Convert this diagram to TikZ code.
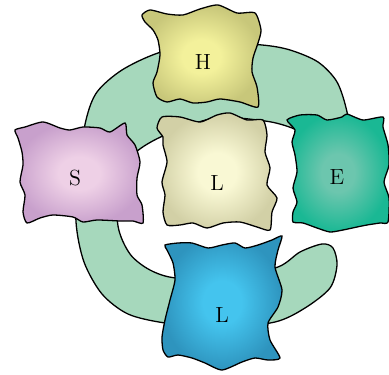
\documentclass[tikz,border=0pt]{standalone}
\usepackage{xcolor}
\usepackage{tikz}
\definecolor{bandgreen}{RGB}{166, 216, 188}
\definecolor{hyellow}{RGB}{243, 241, 155}
\definecolor{hyellowdark}{RGB}{200, 199, 122}
\definecolor{spink}{RGB}{238, 208, 230}
\definecolor{spinkdark}{RGB}{200, 160, 204}
\definecolor{lcream}{RGB}{249, 248, 212}
\definecolor{lcreamdark}{RGB}{210, 208, 166}
\definecolor{eteal}{RGB}{108, 198, 174}
\definecolor{etealdark}{RGB}{26, 184, 148}
\definecolor{lblue}{RGB}{68, 196, 238}
\definecolor{lbluedark}{RGB}{46, 148, 190}
\colorlet{blobin}{white}
\colorlet{blobout}{black}
\pgfdeclareradialshading[blobin,blobout]{blobshade}{\pgfpoint{0bp}{0bp}}{color(0bp)=(blobin); color(8bp)=(blobin); color(25bp)=(blobout); color(50bp)=(blobout)}
\usetikzlibrary{positioning}

\begin{document}
\begin{tikzpicture}[
    x=0.5bp, y=-0.5bp,
    blob/.style={draw=black, line width=0.65pt, /utils/exec={\colorlet{blobin}{#1}\colorlet{blobout}{#1dark}}, shading=blobshade},
    band/.style={draw=black, line width=0.65pt, fill=bandgreen},
    letter/.style={font=\fontsize{11}{13}\selectfont, inner sep=1pt}
]
    \useasboundingbox (0,0) rectangle (389,375);

    % ring behind the blocks
    \draw[band] plot[smooth cycle, tension=0.5] coordinates {
        (352,150) (347,112) (337,82) (318,62) (290,50) (262,45) (205,42)
        (158,53) (122,70) (97,92) (86,120) (78,170) (76,222) (84,262)
        (102,294) (128,314) (165,323) (220,328) (275,322) (305,308)
        (330,288) (337,265) (333,248) (322,244) (300,252) (278,267)
        (230,278) (176,278) (150,270) (130,254) (118,226) (118,180)
        (135,153) (165,135) (215,118) (265,121) (292,128) (315,140)};

    % H
    \shadedraw[blob=hyellow] plot[smooth cycle, tension=0.4] coordinates {
        (142,15) (150,10) (167,14) (183,15) (200,9) (218,5) (237,13) (255,13)
        (261,30) (258,43) (253,58) (252,72) (257,87) (258,107)
        (240,102) (220,99) (207,102) (193,103) (180,99) (167,102) (157,97)
        (153,83) (157,72) (160,55) (158,40) (153,30) (145,22)};
    % S
    \shadedraw[blob=spink] plot[smooth cycle, tension=0.4] coordinates {
        (15,130) (25,127) (43,122) (60,128) (70,130) (83,127) (100,128) (110,132) (125,123)
        (127,135) (135,145) (140,162) (137,178) (137,195) (142,205) (143,223)
        (133,221) (120,221) (97,220) (83,222) (73,217) (53,215) (40,218) (27,223)
        (23,212) (25,195) (20,182) (23,165) (22,152) (18,138)};
    % centre L
    \shadedraw[blob=lcream] plot[smooth cycle, tension=0.4] coordinates {
        (157,128) (162,117) (180,117) (200,122) (217,115) (230,113) (247,120) (263,120)
        (267,135) (265,152) (270,168) (267,185) (277,198) (272,212) (270,230)
        (257,227) (240,222) (223,223) (207,228) (193,223) (180,225) (167,225)
        (163,212) (165,195) (162,182) (167,162) (163,145) (163,137)};
    % E
    \shadedraw[blob=eteal] plot[smooth cycle, tension=0.4] coordinates {
        (287,120) (300,115) (317,115) (327,120) (342,117) (347,114) (363,120) (383,117)
        (383,127) (388,145) (389,165) (384,182) (389,198) (388,222)
        (380,223) (367,225) (357,227) (343,230) (330,232) (317,228) (303,223) (293,222)
        (293,212) (297,202) (293,188) (297,172) (295,155) (292,142) (295,130)};
    % bottom L
    \shadedraw[blob=lblue] plot[smooth cycle, tension=0.4] coordinates {
        (165,245) (178,243) (192,243) (208,248) (222,245) (235,243) (245,248) (258,245) (272,240) (282,236)
        (278,250) (275,267) (282,290) (278,307) (268,323) (270,340) (280,358)
        (268,360) (255,358) (242,362) (222,370) (205,363) (192,358) (178,355) (168,357)
        (163,350) (162,337) (165,320) (170,300) (175,280) (173,263) (167,250)};

    \node[letter] (hardware) at (203,62) {H};
    \node[letter] (software) at (75,178) {S};
    \node[letter] (liveware) at (217,183) {L};
    \node[letter] (environment) at (337,177) {E};
    \node[letter] (livewareb) at (222,315) {L};
\end{tikzpicture}
\end{document}
